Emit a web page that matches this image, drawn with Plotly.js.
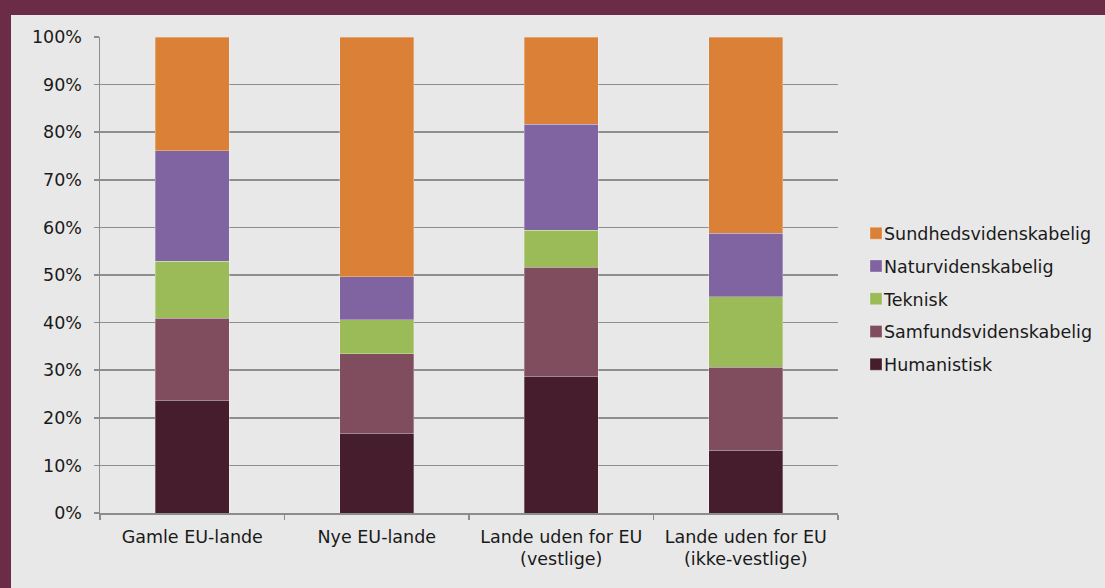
<!DOCTYPE html>
<html>
<head>
<meta charset="utf-8">
<script src="https://cdn.plot.ly/plotly-3.0.1.min.js"></script>
<style>
  html, body { margin: 0; padding: 0; background: #6B2C47; width: 1105px; height: 588px; overflow: hidden; }
  #chart { position: absolute; left: 11px; top: 15px; width: 1094px; height: 573px; }
</style>
</head>
<body>
<div id="chart"></div>
<script>
const categories = ["Gamle EU-lande", "Nye EU-lande", "Lande uden for EU<br>(vestlige)", "Lande uden for EU<br>(ikke-vestlige)"];
const humanistisk = [23.7, 16.8, 28.7, 13.2];
const samfund = [17.2, 16.7, 22.9, 17.4];
const teknisk = [12.0, 7.1, 7.8, 14.8];
const natur = [23.2, 9.0, 22.3, 13.4];
const sundhed = [23.9, 50.4, 18.3, 41.2];
const yTickVals = [0, 10, 20, 30, 40, 50, 60, 70, 80, 90, 100];
const yTickText = ["0%", "10%", "20%", "30%", "40%", "50%", "60%", "70%", "80%", "90%", "100%"];

const series = [
  {name: "Humanistisk", y: humanistisk, color: "#461D2D", rank: 5},
  {name: "Samfundsvidenskabelig", y: samfund, color: "#7F4D5E", rank: 4},
  {name: "Teknisk", y: teknisk, color: "#9BBB59", rank: 3},
  {name: "Naturvidenskabelig", y: natur, color: "#8064A2", rank: 2},
  {name: "Sundhedsvidenskabelig", y: sundhed, color: "#DB8037", rank: 1}
];

const traces = series.map(s => ({
  type: "bar",
  name: s.name,
  x: categories,
  y: s.y,
  legendgroup: s.name,
  legendrank: s.rank,
  marker: {color: s.color, line: {color: "rgba(255,255,255,0.35)", width: 0.8}},
  hoverinfo: "name+y"
}));

const font = {family: "DejaVu Sans, Verdana, sans-serif", size: 17.5, color: "#1a1a1a"};

const layout = {
  width: 1094, height: 573,
  paper_bgcolor: "#E8E8E8",
  plot_bgcolor: "#E8E8E8",
  margin: {l: 89, r: 267, t: 22, b: 75, autoexpand: false},
  barmode: "stack",
  bargap: 0.6,
  font: font,
  showlegend: true,
  legend: {
    x: 1.0244, xanchor: "left", xref: "paper",
    y: 0.45, yanchor: "middle",
    traceorder: "grouped",
    tracegroupgap: 7,
    font: font,
    bgcolor: "rgba(0,0,0,0)",
    itemwidth: 30
  },
  xaxis: {
    type: "category",
    showgrid: false,
    showline: true, linecolor: "#8C8C8C", linewidth: 1.5,
    ticks: "outside", tickson: "boundaries", ticklen: 5, tickcolor: "#8C8C8C", tickwidth: 1.5,
    tickfont: font,
    ticklabelstandoff: 7,
    range: [-0.5, 3.5]
  },
  yaxis: {
    range: [0, 100],
    tickvals: yTickVals, ticktext: yTickText,
    showgrid: true, gridcolor: "#8E8E8E", gridwidth: 1.5,
    showline: true, linecolor: "#8C8C8C", linewidth: 1.5,
    ticks: "outside", ticklen: 5, tickcolor: "#8C8C8C", tickwidth: 1.5,
    zeroline: false,
    tickfont: font,
    ticklabelstandoff: 8
  }
};

Plotly.newPlot("chart", traces, layout, {displayModeBar: false, staticPlot: true}).then(() => {
  document.querySelectorAll("#chart .legendtext").forEach(t => t.setAttribute("x", 28));
});
</script>
</body>
</html>
